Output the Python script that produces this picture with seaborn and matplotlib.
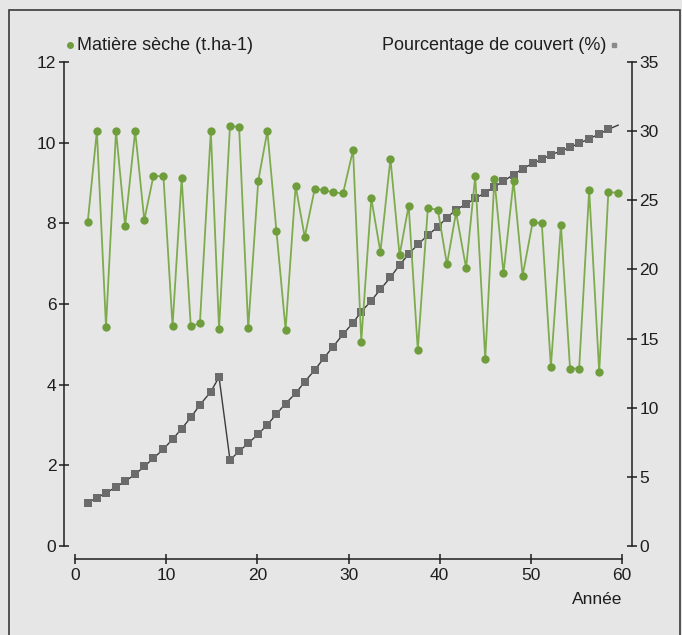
import pandas as pd
import matplotlib.pyplot as plt
import seaborn as sns
from matplotlib.patches import Rectangle

# -----------------------------
# Data
# -----------------------------

annee = [1.4, 2.4, 3.4, 4.5, 5.5, 6.6, 7.6, 8.6, 9.7, 10.7,
         11.7, 12.7, 13.7, 14.9, 15.8, 17.0, 18.0, 19.0, 20.1, 21.1,
         22.1, 23.1, 24.2, 25.2, 26.3, 27.3, 28.3, 29.4, 30.5, 31.4,
         32.5, 33.5, 34.6, 35.6, 36.6, 37.6, 38.7, 39.8, 40.8, 41.8,
         42.9, 43.9, 45.0, 46.0, 47.0, 48.1, 49.1, 50.2, 51.2, 52.2,
         53.3, 54.3, 55.3, 56.4, 57.5, 58.5, 59.6]

matiere_seche = [8.04, 10.29, 5.44, 10.29, 7.94, 10.29, 8.08, 9.17, 9.17, 5.45,
                 9.12, 5.45, 5.52, 10.29, 5.38, 10.41, 10.39, 5.40, 9.05, 10.29,
                 7.80, 5.36, 8.93, 7.66, 8.86, 8.82, 8.77, 8.74, 9.82, 5.07,
                 8.62, 7.29, 9.60, 7.21, 8.44, 4.86, 8.37, 8.34, 6.98, 8.27,
                 6.89, 9.17, 4.63, 9.10, 6.76, 9.05, 6.70, 8.03, 8.00, 4.44,
                 7.96, 4.40, 4.40, 8.83, 4.31, 8.77, 8.76]

couvert = [3.13, 3.49, 3.83, 4.27, 4.68, 5.18, 5.76, 6.34, 7.01, 7.72,
           8.48, 9.30, 10.20, 11.16, 12.22, 6.22, 6.85, 7.43, 8.10, 8.77,
           9.54, 10.30, 11.04, 11.88, 12.73, 13.59, 14.41, 15.31, 16.15, 16.94,
           17.74, 18.56, 19.43, 20.32, 21.11, 21.81, 22.47, 23.09, 23.74, 24.33,
           24.71, 25.14, 25.55, 25.98, 26.39, 26.85, 27.28, 27.67, 27.96, 28.29,
           28.56, 28.83, 29.12, 29.45, 29.79, 30.13, 30.44]

x_ticks = [0, 10, 20, 30, 40, 50, 60]
y_left_ticks = [0, 2, 4, 6, 8, 10, 12]
y_right_ticks = [0, 5, 10, 15, 20, 25, 30, 35]

label_ms = "Matière sèche (t.ha-1)"
label_couv = "Pourcentage de couvert (%)"
label_x = "Année"

df = pd.DataFrame({"annee": annee, "ms": matiere_seche, "couvert": couvert})

# -----------------------------
# Style
# -----------------------------

sns.set_theme(style="ticks")
plt.rcParams["font.family"] = ["Liberation Sans", "DejaVu Sans"]

green = "#6f9d3c"
grey = "#6b6b6b"
ink = "#1e1e1e"
page = "#e6e6e6"

fig = plt.figure(figsize=(6.82, 6.35), dpi=100, facecolor=page)
ax = fig.add_axes([75 / 682, 1 - 546 / 635, 547 / 682, 484 / 635])
ax2 = ax.twinx()

# frame around the figure
fig.patches.append(Rectangle((9 / 682, -0.05), 671 / 682, 1.05 - 10 / 635,
                             transform=fig.transFigure, fill=False,
                             edgecolor="#3a3a3a", linewidth=1.2))

# -----------------------------
# Series
# -----------------------------

sns.lineplot(data=df, x="annee", y="couvert", ax=ax2, color="#3c3c3c",
             linewidth=1.0, marker="s", markersize=5.2,
             markerfacecolor=grey, markeredgewidth=0,
             markevery=list(range(len(annee) - 1)))

sns.lineplot(data=df, x="annee", y="ms", ax=ax, color="#7eab4e",
             linewidth=1.3, marker="o", markersize=6,
             markerfacecolor=green, markeredgewidth=0)

# green on top, white background kept on the twin axis
ax.set_zorder(ax2.get_zorder() + 1)
ax.patch.set_visible(False)
ax2.set_facecolor("#f9f9f9")

ax.set_xlim(0, 60)
ax.set_ylim(0, 12)
ax2.set_ylim(0, 35)
ax.set_xticks(x_ticks)
ax.set_yticks(y_left_ticks)
ax2.set_yticks(y_right_ticks)

ax.set_xlabel(label_x, loc="right", fontsize=12.5, color=ink, labelpad=7)
ax.set_ylabel("")
ax2.set_ylabel("")

for a in (ax, ax2):
    a.grid(False)
    a.spines["top"].set_visible(False)
    for s in a.spines.values():
        s.set_color(ink)
        s.set_linewidth(1.1)
    a.tick_params(direction="inout", length=7, width=1.1, color=ink,
                  labelcolor=ink, labelsize=12.5, pad=2)

ax.tick_params(axis="x", pad=3)
ax.spines["right"].set_visible(False)
ax2.spines["left"].set_visible(False)
ax2.spines["bottom"].set_visible(False)
ax.spines["left"].set_position(("outward", 8))
ax.spines["bottom"].set_position(("outward", 9))
ax2.spines["right"].set_position(("outward", 7))

# axis titles with their markers
ax.plot([-0.009], [1.035], transform=ax.transAxes, clip_on=False,
        marker="o", markersize=4, color=green, linestyle="none")
ax.text(0.003, 1.035, label_ms, transform=ax.transAxes, fontsize=13,
        color=ink, ha="left", va="center")
ax.plot([0.985], [1.035], transform=ax.transAxes, clip_on=False,
        marker="s", markersize=3.5, color="#8a8a8a", linestyle="none")
ax.text(0.972, 1.035, label_couv, transform=ax.transAxes, fontsize=13,
        color=ink, ha="right", va="center")

plt.savefig("out.png", dpi=100, facecolor=page)
plt.close()
